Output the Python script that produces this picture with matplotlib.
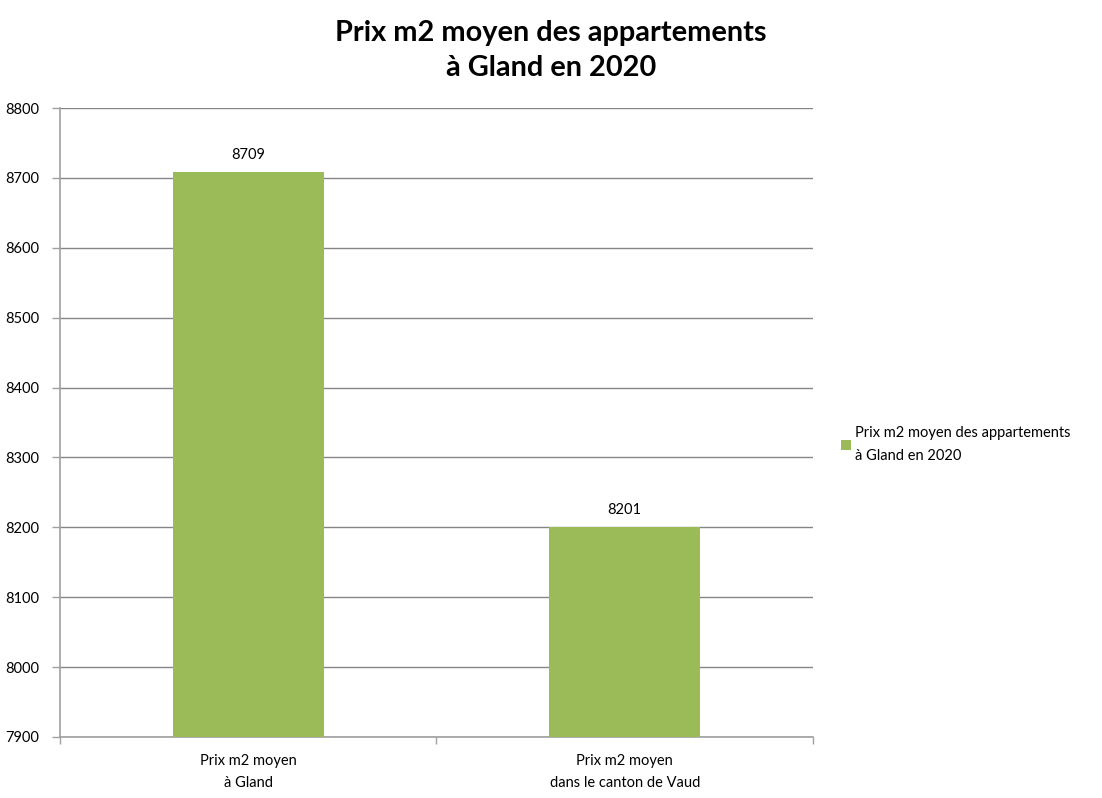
import matplotlib
matplotlib.use("Agg")
import matplotlib.pyplot as plt
from matplotlib.ticker import FixedLocator

# data
categories = ["Prix m2 moyen\nà Gland", "Prix m2 moyen\ndans le canton de Vaud"]
values = [8709, 8201]
series_name = "Prix m2 moyen des appartements\nà Gland en 2020"
title = "Prix m2 moyen des appartements\nà Gland en 2020"

GREEN = "#9bbb59"
GRID = "#868686"
AXIS = "#a0a0a0"

plt.rcParams.update({"font.family": ["Lato", "DejaVu Sans"], "text.color": "black"})

fig = plt.figure(figsize=(11.02, 7.98), dpi=100)
ax = fig.add_axes([60 / 1102, 61 / 798, 753 / 1102, 629 / 798])

x = [0.5 + i for i in range(len(values))]
bars = ax.bar(x, [v - 7900 for v in values], bottom=7900, width=0.4, color=GREEN,
              label=series_name, zorder=3)
for b, v in zip(bars, values):
    ax.text(b.get_x() + b.get_width() / 2, v + 14, f"{v}", ha="center", va="bottom",
            fontsize=10.5)

ax.set_xlim(0, len(values))
ax.set_ylim(7900, 8800)
ax.set_yticks(range(7900, 8801, 100))
ax.yaxis.grid(True, color=GRID, lw=1, zorder=0)
ax.set_xticks(x)
ax.set_xticklabels(categories, fontsize=10.5, linespacing=1.75)
ax.tick_params(axis="x", length=0, pad=12)
ax.xaxis.set_minor_locator(FixedLocator(range(len(values) + 1)))
ax.tick_params(axis="x", which="minor", length=5, color=AXIS, width=1)
ax.tick_params(axis="y", length=6, color=AXIS, width=1, labelsize=10.5, pad=9)
for s in ["top", "right"]:
    ax.spines[s].set_visible(False)
for s in ["left", "bottom"]:
    ax.spines[s].set_color(AXIS)
    ax.spines[s].set_linewidth(1.2)

fig.text(0.5, 0.975, title, ha="center", va="top", fontsize=20.8, fontweight="bold",
         linespacing=1.42)

ax.legend(loc="center left", bbox_to_anchor=(1.02, 0.465), frameon=False,
          handlelength=0.7, handleheight=0.7, handletextpad=0.25,
          prop={"size": 10.5})
for t in ax.get_legend().get_texts():
    t.set_linespacing(1.75)

fig.savefig("out.png", dpi=100, facecolor="white")
